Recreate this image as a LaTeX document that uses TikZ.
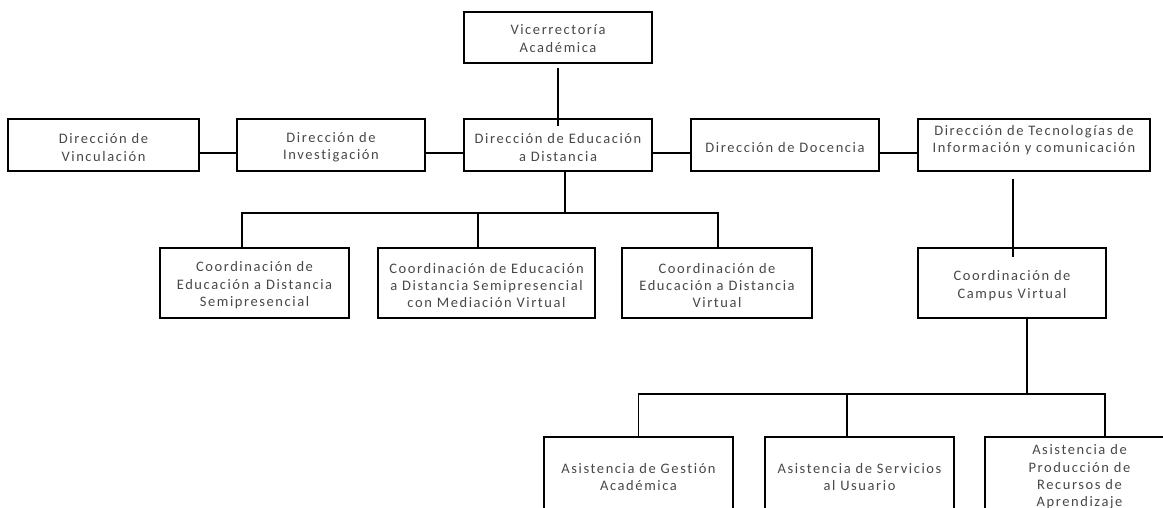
\documentclass[tikz,border=0pt]{standalone}
\usepackage{fontspec}
\setmainfont{Carlito}[LetterSpace=11,Ligatures=NoCommon]
\begin{document}
\begin{tikzpicture}[x=1pt,y=-1pt,
  box/.style={draw=black,line width=1.5pt,inner sep=0pt},
  txt/.style={align=center,inner sep=0pt,text=black!72,font=\fontsize{14.5}{17.4}\selectfont},
  conn/.style={draw=black,line width=1.5pt}]
\useasboundingbox (0,0) rectangle (1163,508);
\clip (0,0) rectangle (1163,508);
% top
\node[box,minimum width=188pt,minimum height=51pt] (vic) at (558,37.5) {};
\node[txt] at ([yshift=-1pt]vic.center) {Vicerrectoría\\Académica};
% row 2
\node[box,minimum width=191pt,minimum height=52pt] (vinc) at (103.5,145) {};
\node[txt] at ([yshift=-2.5pt]vinc.center) {Dirección de\\Vinculación};
\node[box,minimum width=188pt,minimum height=52pt] (inv) at (331,145) {};
\node[txt] at ([yshift=-2.5pt]inv.center) {Dirección de\\Investigación};
\node[box,minimum width=188pt,minimum height=52pt] (edu) at (558,145) {};
\node[txt] at ([yshift=-2.5pt]edu.center) {Dirección de Educación\\a Distancia};
\node[box,minimum width=188pt,minimum height=52pt] (doc) at (785,145) {};
\node[txt] at ([yshift=-2.5pt]doc.center) {Dirección de Docencia};
\node[box,minimum width=232pt,minimum height=52pt] (tec) at (1034,145) {};
\node[txt] at ([yshift=5pt]tec.center) {Dirección de Tecnologías de\\Información y comunicación};
% row 3
\node[box,minimum width=189pt,minimum height=70pt] (c1) at (254.5,283) {};
\node[txt] at ([yshift=-2.5pt]c1.center) {Coordinación de\\Educación a Distancia\\Semipresencial};
\node[box,minimum width=217pt,minimum height=70pt] (c2) at (486.5,283) {};
\node[txt] at ([yshift=-2.5pt]c2.center) {Coordinación de Educación\\a Distancia Semipresencial\\con Mediación Virtual};
\node[box,minimum width=190pt,minimum height=70pt] (c3) at (717,283) {};
\node[txt] at ([yshift=-2.5pt]c3.center) {Coordinación de\\Educación a Distancia\\Virtual};
\node[box,minimum width=188pt,minimum height=70pt] (camp) at (1012,283) {};
\node[txt] at ([yshift=-2.5pt]camp.center) {Coordinación de\\Campus Virtual};
% row 4
\node[box,minimum width=189pt,minimum height=78pt] (a1) at (638.5,476) {};
\node[txt] at ([yshift=-1pt]a1.center) {Asistencia de Gestión\\Académica};
\node[box,minimum width=189pt,minimum height=78pt] (a2) at (859.5,476) {};
\node[txt] at ([yshift=-1pt]a2.center) {Asistencia de Servicios\\al Usuario};
\node[box,minimum width=189pt,minimum height=78pt] (a3) at (1079.5,476) {};
\node[txt] at ([yshift=-1pt]a3.center) {Asistencia de\\Producción de\\Recursos de\\Aprendizaje};
% connectors
\draw[conn] ([yshift=-4pt]vic.south) -- ([yshift=-8pt]edu.north);
\draw[conn] ([yshift=-8pt]vinc.east) -- ([yshift=-8pt]inv.west);
\draw[conn] ([yshift=-8pt]inv.east) -- ([yshift=-8pt]edu.west);
\draw[conn] ([yshift=-8pt]edu.east) -- ([yshift=-8pt]doc.west);
\draw[conn] ([yshift=-8pt]doc.east) -- ([yshift=-8pt]tec.west);
\coordinate (bus1) at (565,213);
\draw[conn] ([xshift=7pt]edu.south) -- (bus1);
\draw[conn] ([xshift=-12.5pt]c1.north) |- ([xshift=1pt]c3.north |- bus1) -- ([xshift=1pt]c3.north);
\draw[conn] ([xshift=-8.5pt]c2.north) -- ([xshift=-8.5pt]c2.north |- bus1);
\draw[conn] ([xshift=-21pt,yshift=-7pt]tec.south) -- ([xshift=1pt,yshift=-10pt]camp.north);
\coordinate (bus2) at (1027,394);
\draw[conn] ([xshift=15pt]camp.south) -- (bus2);
\draw[conn] (a1.north) |- ([xshift=25.5pt]a3.north |- bus2) -- ([xshift=25.5pt]a3.north);
\draw[conn] ([xshift=-12.5pt]a2.north) -- ([xshift=-12.5pt]a2.north |- bus2);
\end{tikzpicture}
\end{document}
